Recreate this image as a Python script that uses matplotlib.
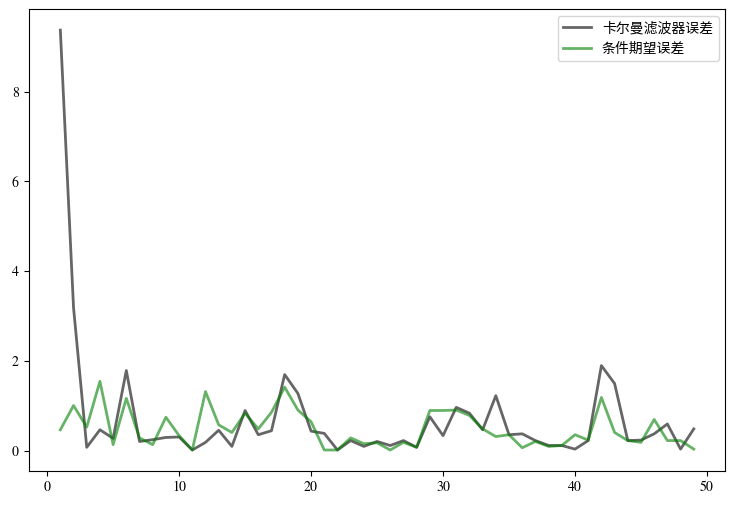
import matplotlib
matplotlib.use("Agg")
import matplotlib.pyplot as plt

# serif digits, CJK fallback for the legend
plt.rcParams['font.family'] = ['STIXGeneral', 'Noto Sans CJK SC']
plt.rcParams['axes.unicode_minus'] = False

# step index
steps = list(range(1, 50))

# Kalman filter error
kalman_err = [9.37, 3.19, 0.08, 0.47, 0.28, 1.79, 0.21, 0.25, 0.30, 0.31,
              0.02, 0.19, 0.46, 0.10, 0.90, 0.36, 0.45, 1.70, 1.28, 0.44,
              0.39, 0.02, 0.23, 0.10, 0.21, 0.12, 0.23, 0.08, 0.76, 0.34,
              0.97, 0.84, 0.47, 1.23, 0.36, 0.38, 0.23, 0.12, 0.12, 0.04,
              0.23, 1.90, 1.50, 0.23, 0.24, 0.38, 0.60, 0.04, 0.49]

# conditional expectation error
cond_err = [0.47, 1.01, 0.53, 1.55, 0.14, 1.17, 0.29, 0.14, 0.75, 0.34,
            0.02, 1.32, 0.58, 0.41, 0.84, 0.49, 0.86, 1.42, 0.91, 0.65,
            0.02, 0.02, 0.29, 0.16, 0.18, 0.02, 0.19, 0.08, 0.90, 0.90,
            0.91, 0.79, 0.49, 0.32, 0.36, 0.07, 0.21, 0.10, 0.12, 0.36,
            0.24, 1.19, 0.41, 0.23, 0.19, 0.70, 0.23, 0.23, 0.04]

fig, ax = plt.subplots(figsize=(7.35, 5.07), dpi=100)
ax.plot(steps, kalman_err, color="black", alpha=0.6, lw=2, label="卡尔曼滤波器误差")
ax.plot(steps, cond_err, color="green", alpha=0.6, lw=2, label="条件期望误差")
ax.legend(loc="upper right")

plt.subplots_adjust(left=0.039, right=0.987, top=0.982, bottom=0.071)
plt.savefig("out.png")
